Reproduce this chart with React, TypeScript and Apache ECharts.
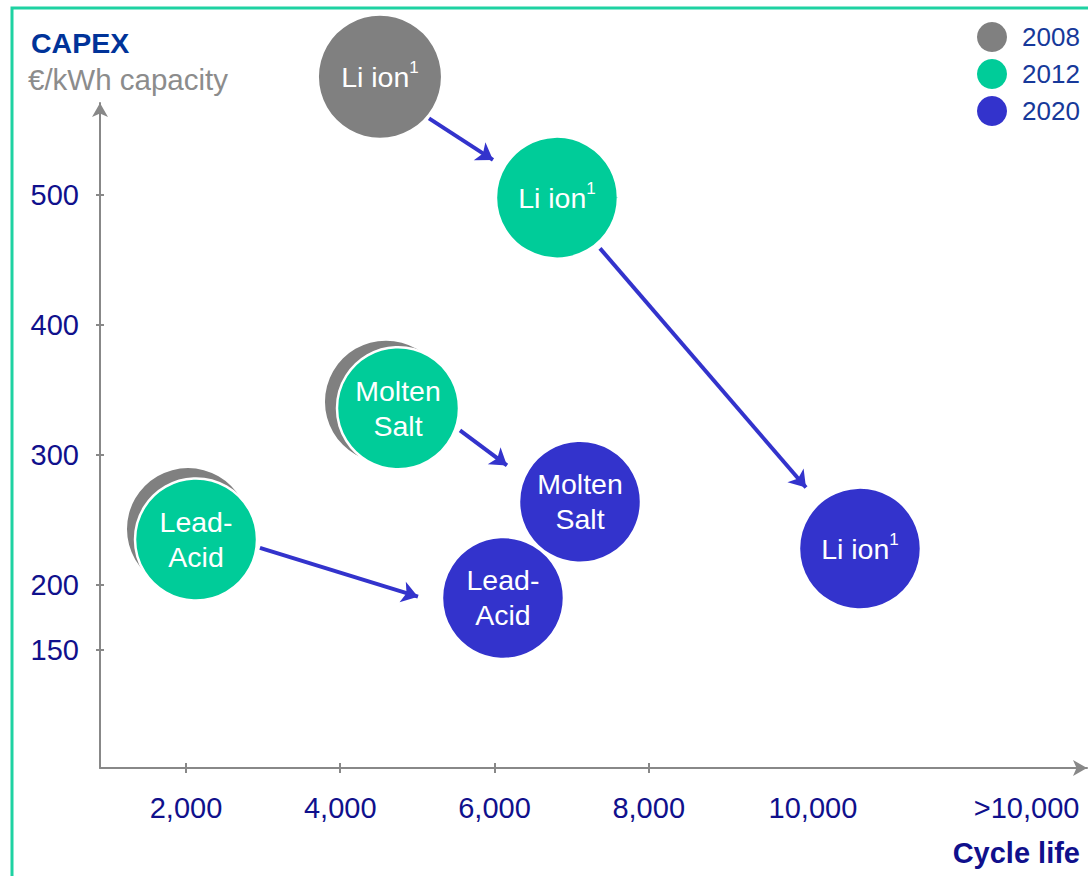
import React, { useEffect, useRef } from "react";
import * as echarts from "echarts";

// Technologies (draw order: Lead-Acid, Molten Salt, Li ion)
const technologies = ["Lead-Acid", "Molten Salt", "Li ion"];
const years = ["2008", "2012", "2020"];

// Cycle life (x) and CAPEX €/kWh (y) per year
const cycles2008 = [2026, 4593, 4515];
const capex2008 = [243, 341, 591];
const cycles2012 = [2130, 4749, 6810];
const capex2012 = [235, 336, 498];
const cycles2020 = [6110, 7109, 10739];
const capex2020 = [190, 264, 228];

// Transition arrows (from -> to), in data units
const arrowFrom = [[5151, 559], [7368, 459], [5553, 319], [2959, 228.5]];
const arrowTo = [[5981, 527], [10039, 275], [6162, 292], [5008, 191]];

// Axis ticks / labels
const xTicks = [2000, 4000, 6000, 8000];
const xLabelValues = [2000, 4000, 6000, 8000, 10000, 12900];
const yTicks = [150, 200, 300, 400, 500];

const X_MIN = 885;
const X_MAX = 13683;
const Y_MIN = 59.2;
const Y_MAX = 570.8;

const FONT = "Liberation Sans, Arial, sans-serif";
const GREY = "#808080";
const GREEN = "#00cc99";
const BLUE = "#3333cc";
const NAVY = "#10108c";

function labelFor(name: string): string {
  if (name === "Li ion") return "{a|Li ion}{s|1}";
  if (name === "Molten Salt") return "{a|Molten}\n{a|Salt}";
  return "{a|Lead-}\n{a|Acid}";
}

function buildData(xs: number[], ys: number[], hideHidden: boolean) {
  return technologies.map((t, i) => {
    const item: any = { name: t, value: [xs[i], ys[i]] };
    // 2008 Molten Salt / Lead-Acid bubbles sit behind the 2012 ones, so their labels are covered
    if (hideHidden && t !== "Li ion") item.label = { show: false };
    return item;
  });
}

export default function App() {
  const ref = useRef<HTMLDivElement>(null);

  useEffect(() => {
    if (!ref.current) return;
    const chart = echarts.init(ref.current, undefined, { renderer: "svg" });

    const bubbleLabel = {
      show: true,
      position: "inside",
      formatter: (p: any) => labelFor(p.name),
      rich: {
        a: { fontSize: 28.5, color: "#fff", fontFamily: FONT, lineHeight: 35 },
        s: { fontSize: 17, color: "#fff", fontFamily: FONT, verticalAlign: "top", lineHeight: 22 },
      },
    };

    const yearSeries = [
      { name: years[0], xs: cycles2008, ys: capex2008, color: GREY, border: 0, z: 2, hide: true },
      { name: years[1], xs: cycles2012, ys: capex2012, color: GREEN, border: 2.5, z: 3, hide: false },
      { name: years[2], xs: cycles2020, ys: capex2020, color: BLUE, border: 2.5, z: 4, hide: false },
    ].map((s) => ({
      type: "scatter",
      name: s.name,
      z: s.z,
      clip: false,
      symbol: "circle",
      symbolSize: 122,
      xAxisIndex: 0,
      yAxisIndex: 0,
      itemStyle: { color: s.color, borderColor: "#fff", borderWidth: s.border, opacity: 1 },
      label: bubbleLabel,
      emphasis: { disabled: true },
      data: buildData(s.xs, s.ys, s.hide),
    }));

    const tickLabelStyle = { color: NAVY, fontSize: 29, fontFamily: FONT };

    chart.setOption({
      animation: false,
      textStyle: { fontFamily: FONT },
      grid: { left: 100, top: 103, right: 1, bottom: 876 - 768, containLabel: false },
      legend: {
        data: years,
        orient: "vertical",
        left: 977,
        top: 22,
        padding: 0,
        icon: "circle",
        itemWidth: 30,
        itemHeight: 30,
        itemGap: 7,
        itemStyle: { borderWidth: 0 },
        textStyle: { fontSize: 26, color: "#17399a", fontFamily: FONT, padding: [0, 0, 0, 10] },
        selectedMode: false,
      },
      xAxis: [
        {
          type: "value",
          min: X_MIN,
          max: X_MAX,
          position: "bottom",
          splitLine: { show: false },
          axisLine: {
            show: true,
            symbol: ["none", "arrow"],
            symbolSize: [12, 14],
            lineStyle: { color: "#888", width: 2 },
          },
          axisTick: { show: true, length: 5, customValues: xTicks, lineStyle: { color: "#888", width: 2 } },
          axisLabel: {
            show: true,
            customValues: xLabelValues,
            margin: 25,
            ...tickLabelStyle,
            formatter: (v: number) => {
              if (v === 12900) return ">10,000";
              if (v === 10000) return "{r|10,000}";
              return v.toLocaleString("en-US");
            },
            rich: { r: { ...tickLabelStyle, padding: [0, 0, 0, 20] } },
          },
        },
        {
          type: "value",
          min: X_MIN,
          max: X_MAX,
          position: "bottom",
          splitLine: { show: false },
          axisLine: { show: false },
          axisLabel: { show: false },
          axisTick: { show: true, inside: true, length: 5, customValues: xTicks, lineStyle: { color: "#888", width: 2 } },
        },
      ],
      yAxis: [
        {
          type: "value",
          min: Y_MIN,
          max: Y_MAX,
          position: "left",
          splitLine: { show: false },
          axisLine: {
            show: true,
            symbol: ["none", "arrow"],
            symbolSize: [12, 14],
            lineStyle: { color: "#888", width: 2 },
          },
          axisTick: { show: true, length: 4, customValues: yTicks, lineStyle: { color: "#888", width: 2 } },
          axisLabel: { show: true, customValues: yTicks, margin: 21, ...tickLabelStyle },
        },
        {
          type: "value",
          min: Y_MIN,
          max: Y_MAX,
          position: "left",
          splitLine: { show: false },
          axisLine: { show: false },
          axisLabel: { show: false },
          axisTick: { show: true, inside: true, length: 4, customValues: yTicks, lineStyle: { color: "#888", width: 2 } },
        },
      ],
      graphic: [
        {
          type: "rect",
          shape: { x: 12, y: 8, width: 2000, height: 2000 },
          style: { fill: "none", stroke: "#1ed2a2", lineWidth: 3 },
          silent: true,
          z: 0,
        },
        {
          type: "text",
          style: { text: "CAPEX", x: 31, y: 43, font: `bold 28.5px ${FONT}`, fill: "#003399", textVerticalAlign: "middle" },
        },
        {
          type: "text",
          style: { text: "€/kWh capacity", x: 28, y: 79, font: `29.5px ${FONT}`, fill: "#8c8c8c", textVerticalAlign: "middle" },
        },
        {
          type: "text",
          style: {
            text: "Cycle life",
            x: 1080,
            y: 853,
            font: `bold 29px ${FONT}`,
            fill: NAVY,
            textAlign: "right",
            textVerticalAlign: "middle",
          },
        },
      ],
      series: [
        ...yearSeries,
        {
          type: "lines",
          coordinateSystem: "cartesian2d",
          xAxisIndex: 0,
          yAxisIndex: 0,
          z: 6,
          symbol: ["none", "arrow"],
          symbolSize: 16,
          lineStyle: { color: BLUE, width: 4, opacity: 1 },
          emphasis: { disabled: true },
          data: arrowFrom.map((f, i) => ({ coords: [f, arrowTo[i]] })),
        },
      ],
    });

    return () => chart.dispose();
  }, []);

  return (
    <div
      ref={ref}
      style={{ position: "absolute", left: 0, top: 0, width: 1088, height: 876, background: "#fff" }}
    />
  );
}
